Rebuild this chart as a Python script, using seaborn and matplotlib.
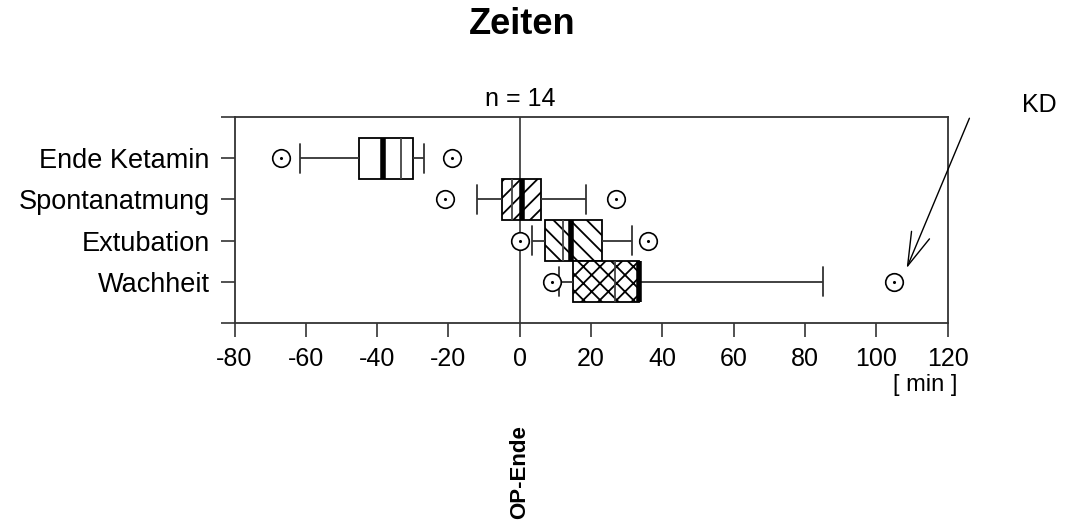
import matplotlib
matplotlib.use("Agg")
import matplotlib.pyplot as plt
import matplotlib.transforms as mtransforms
import numpy as np
import pandas as pd
import seaborn as sns

# Zeitpunkte relativ zum OP-Ende [min]
zeitpunkte = ["Ende Ketamin", "Spontanatmung", "Extubation", "Wachheit"]
minimum = [-67.0, -21.0, 0.0, 9.0]
perz_10 = [-61.5, -12.0, 3.5, 11.0]
quartil_1 = [-45.0, -5.0, 7.0, 15.0]
median = [-38.3, 0.5, 14.5, 33.3]
quartil_3 = [-30.0, 6.0, 23.0, 33.4]
perz_90 = [-27.0, 18.7, 31.5, 85.0]
maximum = [-19.0, 27.0, 36.0, 105.0]
mittelwert = [-33.4, -2.1, 12.0, 26.6]
schraffur = ["", "//", "\\\\", "xx"]
x_ticks = [-80, -60, -40, -20, 0, 20, 40, 60, 80, 100, 120]

sns.set_style("white")
plt.rcParams["font.family"] = ["Liberation Sans", "DejaVu Sans"]
plt.rcParams["text.color"] = "black"
plt.rcParams["axes.labelcolor"] = "black"
plt.rcParams["xtick.color"] = "black"
plt.rcParams["ytick.color"] = "black"
plt.rcParams["hatch.color"] = "black"
plt.rcParams["hatch.linewidth"] = 1.3

# Long-form table: order statistics per Zeitpunkt, so that the box shows the
# quartiles and the whiskers the 10./90. percentile
rows = []
for i, z in enumerate(zeitpunkte):
    werte = [minimum[i], perz_10[i], quartil_1[i], quartil_1[i], median[i],
             quartil_3[i], quartil_3[i], perz_90[i], maximum[i]]
    rows += [{"zeitpunkt": z, "minuten": w} for w in werte]
df = pd.DataFrame(rows)

fig = plt.figure(figsize=(10.66, 5.2), dpi=100)
ax = fig.add_axes([0.22, 0.379, 0.669, 0.396])

ax.axvline(0, color="#444444", lw=1.3, zorder=0)

sns.boxplot(
    data=df, x="minuten", y="zeitpunkt", order=zeitpunkte, orient="h",
    whis=(10, 90), width=1.0, showfliers=False, color="white",
    linecolor="black", linewidth=1.3,
    medianprops=dict(color="black", linewidth=4.0),
    whiskerprops=dict(color="#333333", linewidth=1.3),
    capprops=dict(color="#333333", linewidth=1.3),
    capwidths=0.7,
    ax=ax,
)

boxes = [p for p in ax.patches]
for p, h in zip(boxes, schraffur):
    p.set_hatch(h)
    p.set_edgecolor("black")
    p.set_facecolor("white")

pos = np.arange(len(zeitpunkte))
ax.vlines(mittelwert, pos - 0.5, pos + 0.5, color="#444444", lw=1.3, zorder=3)

# Minimum und Maximum als Kreis mit Punkt
extrem = pd.DataFrame({
    "zeitpunkt": zeitpunkte * 2,
    "minuten": minimum + maximum,
})
sns.scatterplot(data=extrem, x="minuten", y="zeitpunkt", marker="o", s=160,
                facecolor="white", edgecolor="black", linewidth=1.2,
                zorder=4, ax=ax, legend=False)
sns.scatterplot(data=extrem, x="minuten", y="zeitpunkt", marker="o", s=5,
                color="black", linewidth=0, zorder=5, ax=ax, legend=False)

ax.set_xlim(-80, 120)
ax.set_xticks(x_ticks)
ax.set_xticklabels([str(t) for t in x_ticks])
ax.set_ylim(4, -1)
ax.set_yticks([-1, 0, 1, 2, 3, 4])
ax.set_yticklabels([""] + zeitpunkte + [""])
ax.set_xlabel("")
ax.set_ylabel("")

for s in ax.spines.values():
    s.set_visible(True)
    s.set_color("#333333")
    s.set_linewidth(1.3)
ax.tick_params(axis="both", direction="out", length=10, width=1.2,
               color="#333333", labelcolor="black", bottom=True, left=True,
               top=False, right=False)
ax.tick_params(axis="x", pad=7, labelsize=18)
ax.tick_params(axis="y", pad=8, labelsize=19.5)

# Beschriftungen
fig.text(0.49, 0.952, "Zeiten", ha="center", va="center",
         fontsize=26, fontweight="bold")
trans_x = mtransforms.blended_transform_factory(ax.transData, ax.transAxes)
ax.text(0, 1.03, "n = 14", transform=trans_x, ha="center", va="bottom",
        fontsize=18)
trans_fx = mtransforms.blended_transform_factory(ax.transData, fig.transFigure)
fig.text(0, 0.092, "OP-Ende", transform=trans_fx, rotation=90,
         ha="center", va="center", fontsize=16, fontweight="bold")
fig.text(0.868, 0.26, "[ min ]", ha="center", va="center", fontsize=17)

ax.text(145.8, -1.29, "KD", ha="center", va="center", fontsize=18,
        clip_on=False)
ax.annotate("", xy=(maximum[3] + 3.5, 2.67), xytext=(126.1, -0.97),
            arrowprops=dict(arrowstyle="->,head_length=2.4,head_width=0.7",
                            color="black", lw=1.0, shrinkA=0, shrinkB=0),
            annotation_clip=False)

fig.savefig("out.png", dpi=100)
